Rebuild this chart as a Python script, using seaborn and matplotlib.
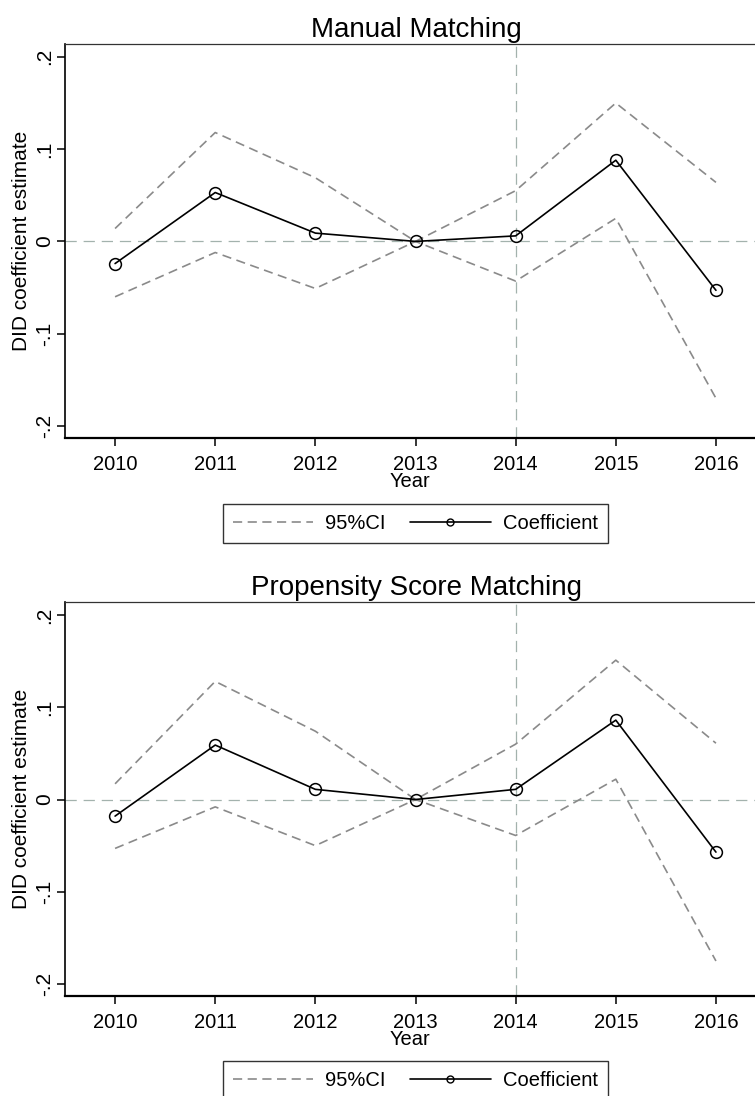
# ── imports ──────────────────────────────────────────
import pandas as pd
import matplotlib
matplotlib.use('Agg')
import matplotlib.pyplot as plt
import seaborn as sns
from matplotlib.lines import Line2D

# ── data ─────────────────────────────────────────────
years = [2010, 2011, 2012, 2013, 2014, 2015, 2016]

# panel 1: manual matching
mm_coef = [-0.024, 0.053, 0.009, 0.000, 0.006, 0.088, -0.053]
mm_upper = [0.014, 0.118, 0.069, 0.000, 0.055, 0.150, 0.064]
mm_lower = [-0.060, -0.012, -0.051, 0.000, -0.043, 0.025, -0.170]

# panel 2: propensity score matching
psm_coef = [-0.018, 0.059, 0.011, 0.000, 0.011, 0.086, -0.057]
psm_upper = [0.017, 0.128, 0.074, 0.000, 0.060, 0.151, 0.061]
psm_lower = [-0.053, -0.008, -0.050, 0.000, -0.039, 0.022, -0.175]

titles = ['Manual Matching', 'Propensity Score Matching']
yticks = [-0.2, -0.1, 0.0, 0.1, 0.2]
ytick_labels = ['-.2', '-.1', '0', '.1', '.2']
event_year = 2014

# ── style ────────────────────────────────────────────
sns.set_theme(style='white')
plt.rcParams['font.family'] = ['Liberation Sans', 'DejaVu Sans']
plt.rcParams.update({'text.color': 'black', 'axes.labelcolor': 'black',
                     'xtick.color': 'black', 'ytick.color': 'black'})

CI_COLOR = '#8a8a8a'
REF_COLOR = '#a3b2ad'
CI_DASH = (0, (5.5, 3.3))
REF_DASH = (0, (9, 5.5))
FS = 14.5

fig = plt.figure(figsize=(7.55, 10.96), dpi=100)

panels = [
    (titles[0], mm_coef, mm_upper, mm_lower, [0.0861, 0.6004, 0.9139, 0.3595], 0.5224),
    (titles[1], psm_coef, psm_upper, psm_lower, [0.0861, 0.0912, 0.9139, 0.3595], 0.0141),
]

for title, coef, upper, lower, rect, leg_y in panels:
    ax = fig.add_axes(rect)
    df = pd.DataFrame({'year': years, 'coef': coef, 'upper': upper, 'lower': lower})

    # reference lines
    ax.axhline(0, color=REF_COLOR, lw=0.9, linestyle=REF_DASH, zorder=1)
    ax.axvline(event_year, color=REF_COLOR, lw=0.9, linestyle=REF_DASH, zorder=1)

    # confidence bounds
    for col in ['upper', 'lower']:
        sns.lineplot(data=df, x='year', y=col, ax=ax, color=CI_COLOR,
                     lw=1.2, linestyle=CI_DASH, estimator=None, sort=False)

    # point estimates
    sns.lineplot(data=df, x='year', y='coef', ax=ax, color='black', lw=1.2,
                 marker='o', markersize=8.5, markerfacecolor='none',
                 markeredgecolor='black', markeredgewidth=1.1,
                 estimator=None, sort=False, zorder=3)

    ax.set_xlim(2009.5, 2016.39)
    ax.set_ylim(-0.213, 0.214)
    ax.set_xticks(years)
    ax.set_xticklabels([str(y) for y in years], fontsize=FS)
    ax.set_yticks(yticks)
    ax.set_yticklabels(ytick_labels, fontsize=15, rotation=90, va='center')
    ax.tick_params(axis='both', direction='out', length=6, width=1.1,
                   color='black', left=True, bottom=True)
    ax.tick_params(axis='x', pad=6)
    ax.tick_params(axis='y', pad=2)

    ax.set_xlabel('Year', fontsize=FS, labelpad=-1)
    ax.set_ylabel('DID coefficient estimate', fontsize=15, labelpad=3)
    ax.set_title(title, fontsize=20, x=0.509, pad=5)

    ax.spines['right'].set_visible(False)
    ax.spines['top'].set_color('#333333')
    ax.spines['top'].set_linewidth(0.9)
    ax.spines['left'].set_color('black')
    ax.spines['left'].set_linewidth(1.2)
    ax.spines['bottom'].set_color('black')
    ax.spines['bottom'].set_linewidth(1.6)

    handles = [
        Line2D([], [], color=CI_COLOR, lw=1.2, linestyle=CI_DASH),
        Line2D([], [], color='black', lw=1.2, marker='o', markersize=5,
               markerfacecolor='none', markeredgecolor='black'),
    ]
    leg = fig.legend(handles, ['95%CI', 'Coefficient'], loc='center',
                     bbox_to_anchor=(0.55, leg_y), ncol=2, fontsize=FS,
                     frameon=True, fancybox=False, edgecolor='black',
                     handlelength=4.0, handletextpad=0.6, columnspacing=1.2,
                     borderpad=0.5, borderaxespad=0)
    leg.get_frame().set_linewidth(1.0)

plt.savefig('out.png', dpi=100)
